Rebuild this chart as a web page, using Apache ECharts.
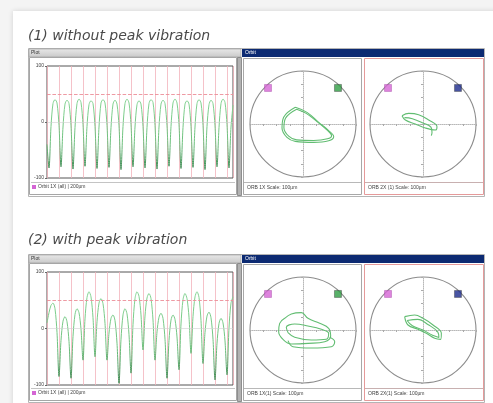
<!DOCTYPE html>
<html><head><meta charset="utf-8">
<script src="https://cdn.jsdelivr.net/npm/echarts/dist/echarts.min.js"></script>
<style>html,body{margin:0;padding:0;background:#f4f4f4}#c{width:493px;height:403px}</style>
</head><body><div id="c"></div>
<script>
const titles = ['(1) without peak vibration', '(2) with peak vibration'];
const panelLabels = ['Plot', 'Orbit'];
const legendText = 'Orbit 1X (all) | 200µm';
const orbitLabels = [['ORB 1X Scale: 100µm', 'ORB 2X (1) Scale: 100µm'], ['ORB 1X(1) Scale: 100µm', 'ORB 2X(1) Scale: 100µm']];
const limitValue = 50;

const wave1 = [-40,-82,-8,33,40,34,-6,-80,-9,32,39,33,-7,-84,-10,33,41,35,-5,-79,-8,31,38,33,-8,-83,-9,34,40,34,-6,-81,-10,32,39,32,-7,-85,-8,33,41,34,-5,-80,-9,31,38,32,-8,-82,-10,33,40,35,-6,-84,-9,32,39,33,-7,-79,-8,34,41,34,-5,-83,-10,32,38,32,-8,-81,-9,33,40,34,-6,-85,-8,31,39,33,-7,-80,-10,33,41,35,-5,-82,-9,30];
const wave2 = [10,28,41,45,35,-7,-85,-21,13,21,12,-23,-88,-14,25,35,28,-1,-56,17,55,65,56,19,-50,12,45,53,44,9,-56,-8,18,24,14,-26,-97,-19,24,35,26,-11,-79,7,53,65,57,24,-38,22,54,62,53,15,-56,-6,20,27,18,-19,-88,-21,15,24,16,-15,-73,8,51,62,53,20,-44,21,56,65,55,14,-62,-7,22,29,19,-19,-91,-26,9,18,10,-22,-82,1,45,56];

const orbit1L_a = [[-14.5,31.5],[-36.5,12.6],[-39.6,-7.5],[-30.2,-25.2],[-14.5,-32.7],[20.1,-34.6],[48.4,-31.5],[57.9,-23.9],[48.4,-12.6],[29.6,3.1],[7.5,22],[-14.5,31.5]];
const orbit1L_b = [[-12,28],[-33,11],[-36,-7],[-27,-23],[-12,-30],[20,-31],[46,-28],[54,-22],[45,-11],[27,4],[6,20],[-12,28]];
const orbit1R_a = [[-39.6,15.7],[-27,20.1],[-8.2,17.6],[10.7,7.5],[26.4,-5],[23.3,-11.3],[4.4,-7.5],[-14.5,0],[-33.3,7.5],[-39.6,15.7]];
const orbit1R_b = [[-35,12],[-20,10],[0,2],[15,-6],[17,-16],[15.7,-22]];
const orbit2L_a = [[-34.6,22],[-22,30.2],[-3.1,32.7],[9.4,22],[31.5,12.6],[48.4,3.1],[52.2,-11.3],[40.9,-22],[9.4,-25.2],[-22,-26.4],[-37.7,-17.6],[-45.9,-3.1],[-44,12.6],[-34.6,22]];
const orbit2L_b = [[-28.3,-5],[-15.7,-13.8],[15.7,-18.9],[44,-17.6],[48.4,-6.3],[34.6,1.3],[9.4,7.5],[-15.7,11.3],[-31.5,5],[-28.3,-5]];
const orbit2L_c = [[-28.3,-20.1],[-18.9,-31.5],[15.7,-34],[53.5,-31.5],[59.8,-22],[50.3,-13.8]];
const orbit2R_a = [[-34.6,25.2],[-15.7,28.3],[0,22],[18.9,9.4],[34.6,-6.3],[33.3,-17.6],[22,-15.7],[6.3,-6.3],[-9.4,1.3],[-28.3,9.4],[-34.6,25.2]];
const orbit2R_b = [[-30,18],[-10,20],[10,10],[28,-4],[30,-14],[18,-10],[0,0],[-20,8],[-30,18]];
const markerPos = [[-66,68],[66,68]];

const chart = echarts.init(document.getElementById('c'), null, {renderer:'canvas'});
const FONT = 'Liberation Sans';
const MAGENTA = '#d465d4', GREEN = '#2f9e44', NAVY = '#1c2a8c';

function panel(dy, labs) {
  const g = [];
  g.push({type:'rect', z:-9, shape:{x:28.5,y:48.5+dy,width:456,height:148}, style:{fill:'#fff', stroke:'#b4b4b4', lineWidth:1}});
  g.push({type:'rect', z:-8, shape:{x:29,y:49+dy,width:212,height:8}, style:{fill:new echarts.graphic.LinearGradient(0,0,0,1,[{offset:0,color:'#e8e8e8'},{offset:1,color:'#c9c9c9'}]), stroke:'#9a9a9a', lineWidth:0.6}});
  g.push({type:'text', z:-7, style:{x:31,y:53+dy,text:panelLabels[0],fontSize:5,fill:'#333',verticalAlign:'middle',fontFamily:FONT}});
  g.push({type:'rect', z:-8, shape:{x:29.5,y:57.5+dy,width:207,height:137}, style:{fill:'#fff', stroke:'#a6a6a6', lineWidth:1}});
  g.push({type:'line', z:-7, shape:{x1:31,y1:182.5+dy,x2:235,y2:182.5+dy}, style:{stroke:'#c4c4c4', lineWidth:1}});
  g.push({type:'rect', z:-7, shape:{x:32,y:185+dy,width:4,height:4}, style:{fill:MAGENTA}});
  g.push({type:'text', z:-7, style:{x:38,y:187+dy,text:legendText,fontSize:5,fill:'#444',verticalAlign:'middle',fontFamily:FONT}});
  g.push({type:'rect', z:-7, shape:{x:237.5,y:57.5+dy,width:4,height:138}, style:{fill:'#b2b2b2', stroke:'#6e6e6e', lineWidth:0.7}});
  g.push({type:'rect', z:-8, shape:{x:242,y:49+dy,width:242,height:8}, style:{fill:'#0c2a72'}});
  g.push({type:'text', z:-7, style:{x:245,y:53+dy,text:panelLabels[1],fontSize:5,fill:'#fff',verticalAlign:'middle',fontFamily:FONT}});
  g.push({type:'rect', z:-8, shape:{x:243.5,y:58.5+dy,width:118,height:136}, style:{fill:'#fff', stroke:'#a8a8a8', lineWidth:1}});
  g.push({type:'line', z:-7, shape:{x1:244,y1:182.5+dy,x2:361,y2:182.5+dy}, style:{stroke:'#b8b8b8', lineWidth:1}});
  g.push({type:'text', z:-7, style:{x:247,y:188+dy,text:labs[0],fontSize:5,fill:'#444',verticalAlign:'middle',fontFamily:FONT}});
  g.push({type:'rect', z:-8, shape:{x:364.5,y:58.5+dy,width:119,height:136}, style:{fill:'#fff', stroke:'#e59a9a', lineWidth:1}});
  g.push({type:'line', z:-7, shape:{x1:365,y1:182.5+dy,x2:483,y2:182.5+dy}, style:{stroke:'#c8b0b0', lineWidth:1}});
  g.push({type:'text', z:-7, style:{x:368,y:188+dy,text:labs[1],fontSize:5,fill:'#444',verticalAlign:'middle',fontFamily:FONT}});
  return g;
}

const DY = 206;
const orbitCenters = [[303,124],[423,124],[303,124+DY],[423,124+DY]];
const R = 53;

const grids = [
  {left:47, top:66, width:186, height:112, show:true, borderColor:'#555', borderWidth:1, backgroundColor:'#fff'},
  {left:47, top:66+DY, width:186, height:113, show:true, borderColor:'#555', borderWidth:1, backgroundColor:'#fff'}
].concat(orbitCenters.map(c => ({left:c[0]-R, top:c[1]-R, width:2*R, height:2*R, show:false})));

const waveX = (gi, len) => ({gridIndex:gi, type:'value', min:0, max:len-1, interval:6,
  axisLine:{show:false}, axisTick:{show:false}, axisLabel:{show:false},
  splitLine:{show:true, lineStyle:{color:'#f2b3bb', width:0.8}}});
const waveY = gi => ({gridIndex:gi, type:'value', min:-100, max:100, interval:100,
  axisLine:{show:false}, axisTick:{show:true, length:2, lineStyle:{color:'#666'}},
  axisLabel:{fontSize:5, color:'#444', margin:3, fontFamily:FONT}, splitLine:{show:false}});
const orbAx = gi => ({gridIndex:gi, type:'value', min:-100, max:100, interval:25,
  axisLine:{onZero:true, lineStyle:{color:'#b8b8b8', type:'dotted', width:1}},
  axisTick:{show:true, length:2, lineStyle:{color:'#aaa'}}, axisLabel:{show:false}, splitLine:{show:false}});

const xAxes = [waveX(0, wave1.length), waveX(1, wave2.length)];
const yAxes = [waveY(0), waveY(1)];
for (let i = 0; i < 4; i++) { xAxes.push(orbAx(i+2)); yAxes.push(orbAx(i+2)); }

const lineGrad = () => new echarts.graphic.LinearGradient(0,0,0,1,[{offset:0,color:'#86d494'},{offset:0.6,color:'#6cc07c'},{offset:1,color:'#3e8652'}]);
const markLine = {silent:true, symbol:'none', label:{show:false}, animation:false,
  data:[{yAxis:limitValue, lineStyle:{color:'#ec8f98', type:'dashed', width:0.9}},
        {yAxis:0, lineStyle:{color:'#d0d0d0', type:'solid', width:0.6}}]};

const series = [
  {type:'line', xAxisIndex:0, yAxisIndex:0, data:wave1.map((v,i)=>[i,v]), showSymbol:false, smooth:0.3, lineStyle:{color:lineGrad(), width:1}, markLine:markLine, z:3},
  {type:'line', xAxisIndex:1, yAxisIndex:1, data:wave2.map((v,i)=>[i,v]), showSymbol:false, smooth:0.3, lineStyle:{color:lineGrad(), width:1}, markLine:markLine, z:3}
];
const orbitSets = [[orbit1L_a, orbit1L_b],[orbit1R_a, orbit1R_b],[orbit2L_a, orbit2L_b, orbit2L_c],[orbit2R_a, orbit2R_b]];
const rightColors = [GREEN, NAVY, GREEN, NAVY];
orbitSets.forEach((set, k) => {
  set.forEach(d => series.push({type:'line', xAxisIndex:k+2, yAxisIndex:k+2, data:d, showSymbol:false, smooth:0.4,
    lineStyle:{color:'#62bd72', width:1.1}, z:3}));
  series.push({type:'scatter', xAxisIndex:k+2, yAxisIndex:k+2, symbol:'rect', symbolSize:7, z:4,
    data:[{value:markerPos[0], itemStyle:{color:MAGENTA, borderColor:'#a040a0', borderWidth:0.5}},
          {value:markerPos[1], itemStyle:{color:rightColors[k], borderColor:'#333', borderWidth:0.5}}]});
});

const polars = orbitCenters.map(c => ({center:c, radius:R}));
const angleAxes = orbitCenters.map((c,i) => ({polarIndex:i, type:'value', min:0, max:360, startAngle:90,
  axisLine:{show:true, lineStyle:{color:'#8c8c8c', width:1.1}}, axisTick:{show:false}, axisLabel:{show:false}, splitLine:{show:false}}));
const radiusAxes = orbitCenters.map((c,i) => ({polarIndex:i, type:'value', min:0, max:100, show:false}));

const graphic = [{type:'rect', z:-10, shape:{x:13,y:11,width:490,height:400}, style:{fill:'#fff', shadowBlur:5, shadowColor:'rgba(0,0,0,0.14)'}}]
  .concat(panel(0, orbitLabels[0])).concat(panel(DY, orbitLabels[1]));

chart.setOption({
  animation:false,
  backgroundColor:'#f4f4f4',
  title: titles.map((t,i) => ({text:t, left:23, top: i===0 ? 24 : 228,
    textStyle:{fontSize:14, fontStyle:'italic', fontWeight:'normal', color:'#4a4a4a', fontFamily:'DejaVu Sans'}})),
  graphic: graphic,
  grid: grids,
  xAxis: xAxes,
  yAxis: yAxes,
  polar: polars,
  angleAxis: angleAxes,
  radiusAxis: radiusAxes,
  series: series
});
</script></body></html>
